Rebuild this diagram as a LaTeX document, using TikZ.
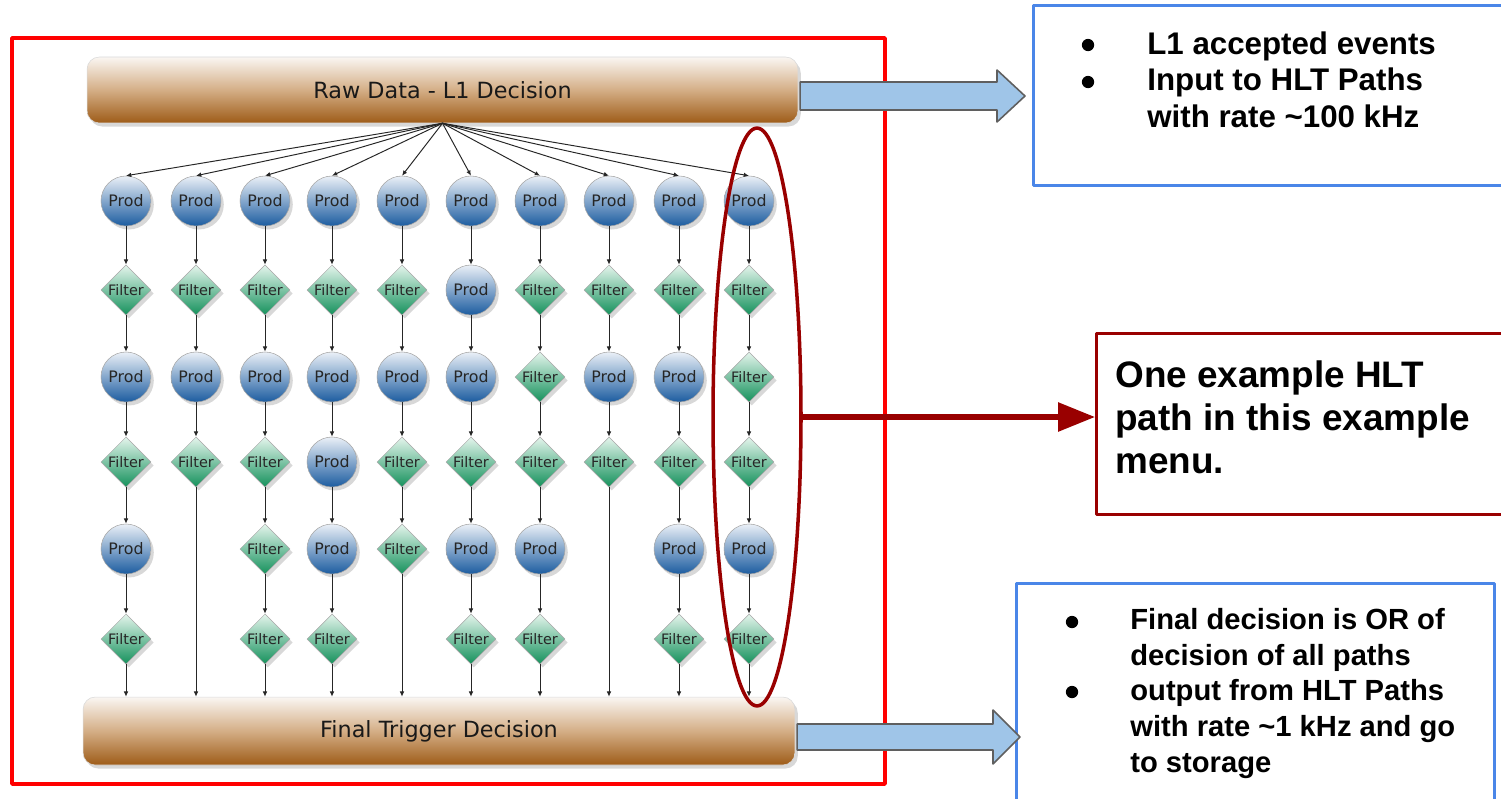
\documentclass[tikz,border=0pt]{standalone}
\usepackage{fontspec}
\newfontfamily\diafont{DejaVu Sans}
\newfontfamily\notefont{Liberation Sans}
\usetikzlibrary{arrows.meta,calc,shadows,shapes.geometric}
\definecolor{frame}{HTML}{FF0000}
\definecolor{pathred}{HTML}{990000}
\definecolor{noteblue}{HTML}{4A86E8}
\definecolor{arrowfill}{HTML}{9FC5E8}
\definecolor{arrowedge}{HTML}{5F5F5F}
\definecolor{barlight}{HTML}{FAF6F2}
\definecolor{barmid}{HTML}{D4AE86}
\definecolor{bardark}{HTML}{9E5C18}
\definecolor{prodlight}{HTML}{EAF0F7}
\definecolor{proddark}{HTML}{1C5CA0}
\definecolor{filtlight}{HTML}{E4F5EC}
\definecolor{filtdark}{HTML}{15915C}

\begin{document}
\begin{tikzpicture}[
  x=0.02cm,y=-0.02cm,
  line cap=round,line join=round,
  edge/.style={draw=black!85, line width=.55pt, -{Latex[length=3pt,width=2.6pt]}},
  shade/.style={drop shadow={opacity=.3,shadow xshift=1.6pt,shadow yshift=-2pt}},
  bar/.style={rounded corners=7pt, minimum width=14.22cm, minimum height=1.32cm,
    top color=barlight, bottom color=bardark, middle color=barmid,
    draw=black!15, line width=.3pt, shade,
    font=\diafont\fontsize{12.7}{15}\selectfont, text=black!90},
  prod/.style={circle, minimum size=1cm, inner sep=0pt,
    top color=prodlight, bottom color=proddark, draw=black!35, line width=.3pt, shade,
    font=\diafont\fontsize{9}{10}\selectfont, text=black!85, node contents=Prod},
  filt/.style={diamond, aspect=1, minimum size=1cm, inner sep=0pt,
    top color=filtlight, bottom color=filtdark, draw=black!35, line width=.3pt, shade,
    font=\diafont\fontsize{8.2}{9}\selectfont, text=black!85, node contents=Filter},
  note/.style={font=\notefont\bfseries, align=left, anchor=north west, inner sep=0pt},
  block/.style={fill=arrowfill, draw=arrowedge, line width=.9pt},
  patharrow/.style={draw=pathred, line width=3pt, -{Triangle[length=21pt,width=16pt]}}
]
\clip (0,0) rectangle (1501,798);
\fill[white] (0,0) rectangle (1501,798);

% trigger menu frame
\draw[frame, line width=2pt] (12,38) rectangle (885,784);

% input and output bars
\node[bar] (raw) at (442.5,90) {Raw Data - L1 Decision};
\node[bar, minimum width=14.24cm, minimum height=1.36cm] (fin) at (439,731) {Final Trigger Decision};

% the paths: producers and filters, column by column
\foreach \col/\xx/\n/\seq in {
  1/126/6/{prod,filt,prod,filt,prod,filt},
  2/196/4/{prod,filt,prod,filt},
  3/265/6/{prod,filt,prod,filt,filt,filt},
  4/332/6/{prod,filt,prod,prod,prod,filt},
  5/402/5/{prod,filt,prod,filt,filt},
  6/471/6/{prod,prod,prod,filt,prod,filt},
  7/540/6/{prod,filt,filt,filt,prod,filt},
  8/609/4/{prod,filt,prod,filt},
  9/679/6/{prod,filt,prod,filt,prod,filt},
  10/749/6/{prod,filt,filt,filt,prod,filt}}{
  \foreach \kind [count=\r] in \seq {
    \pgfmathsetmacro\yy{{201,290,377,462,549,639}[\r-1]}
    \node (c\col-\r) at (\xx,\yy) [\kind];
    \ifnum\r>1
      \pgfmathtruncatemacro\q{\r-1}
      \draw[edge] (c\col-\q) -- (c\col-\r);
    \fi
  }
  \draw[edge] (raw.south) -- (c\col-1.north);
  \draw[edge] (c\col-\n) -- (c\col-\n |- fin.north);
}

% one highlighted path
\node[ellipse, draw=pathred, line width=2pt, minimum width=1.76cm, minimum height=11.56cm, inner sep=0pt] (hltpath) at (757,417) {};

% notes on the right
\node[draw=noteblue, line width=1.7pt, anchor=north west, minimum width=9.8cm, minimum height=3.6cm, inner sep=0pt] (inbox) at (1032,4) {};
\fill (1088,45) circle (3.5pt);
\fill (1088,82) circle (3.5pt);
\node[note, font=\notefont\bfseries\fontsize{17.8}{21}\selectfont] (intext) at (1147,31)
  {L1 accepted events\\Input to HLT Paths\\with rate \textasciitilde100 kHz};

\node[draw=pathred, line width=1.7pt, anchor=north west, minimum width=8.6cm, minimum height=3.62cm, inner sep=0pt] (pathbox) at (1095,332) {};
\node[note, font=\notefont\bfseries\fontsize{21}{24.5}\selectfont] (pathtext) at (1115,360)
  {One example HLT\\path in this example\\menu.};

\node[draw=noteblue, line width=1.7pt, anchor=north west, minimum width=9.56cm, minimum height=4.6cm, inner sep=0pt] (outbox) at (1015,582) {};
\fill (1072,622) circle (3.5pt);
\fill (1072,692) circle (3.5pt);
\node[note, font=\notefont\bfseries\fontsize{16.6}{20.3}\selectfont] (outtext) at (1130,608)
  {Final decision is OR of\\decision of all paths\\output from HLT Paths\\with rate \textasciitilde1 kHz and go\\to storage};

% connectors to the notes
\draw[patharrow] (hltpath.east) -- (hltpath.east -| pathbox.west);

\coordinate (inStart) at ($(raw.east)+(2,6)$);
\coordinate (inTip) at (1025,96);
\draw[block] ($(inStart)+(0,-14)$) -- ($(inTip)+(-28,-14)$) -- ($(inTip)+(-28,-26)$) -- (inTip)
  -- ($(inTip)+(-28,26)$) -- ($(inTip)+(-28,14)$) -- ($(inStart)+(0,14)$) -- cycle;

\coordinate (outStart) at ($(fin.east)+(2,6)$);
\coordinate (outTip) at (1020,737);
\draw[block] ($(outStart)+(0,-13)$) -- ($(outTip)+(-27,-13)$) -- ($(outTip)+(-27,-27)$) -- (outTip)
  -- ($(outTip)+(-27,27)$) -- ($(outTip)+(-27,13)$) -- ($(outStart)+(0,13)$) -- cycle;

\end{tikzpicture}
\end{document}
